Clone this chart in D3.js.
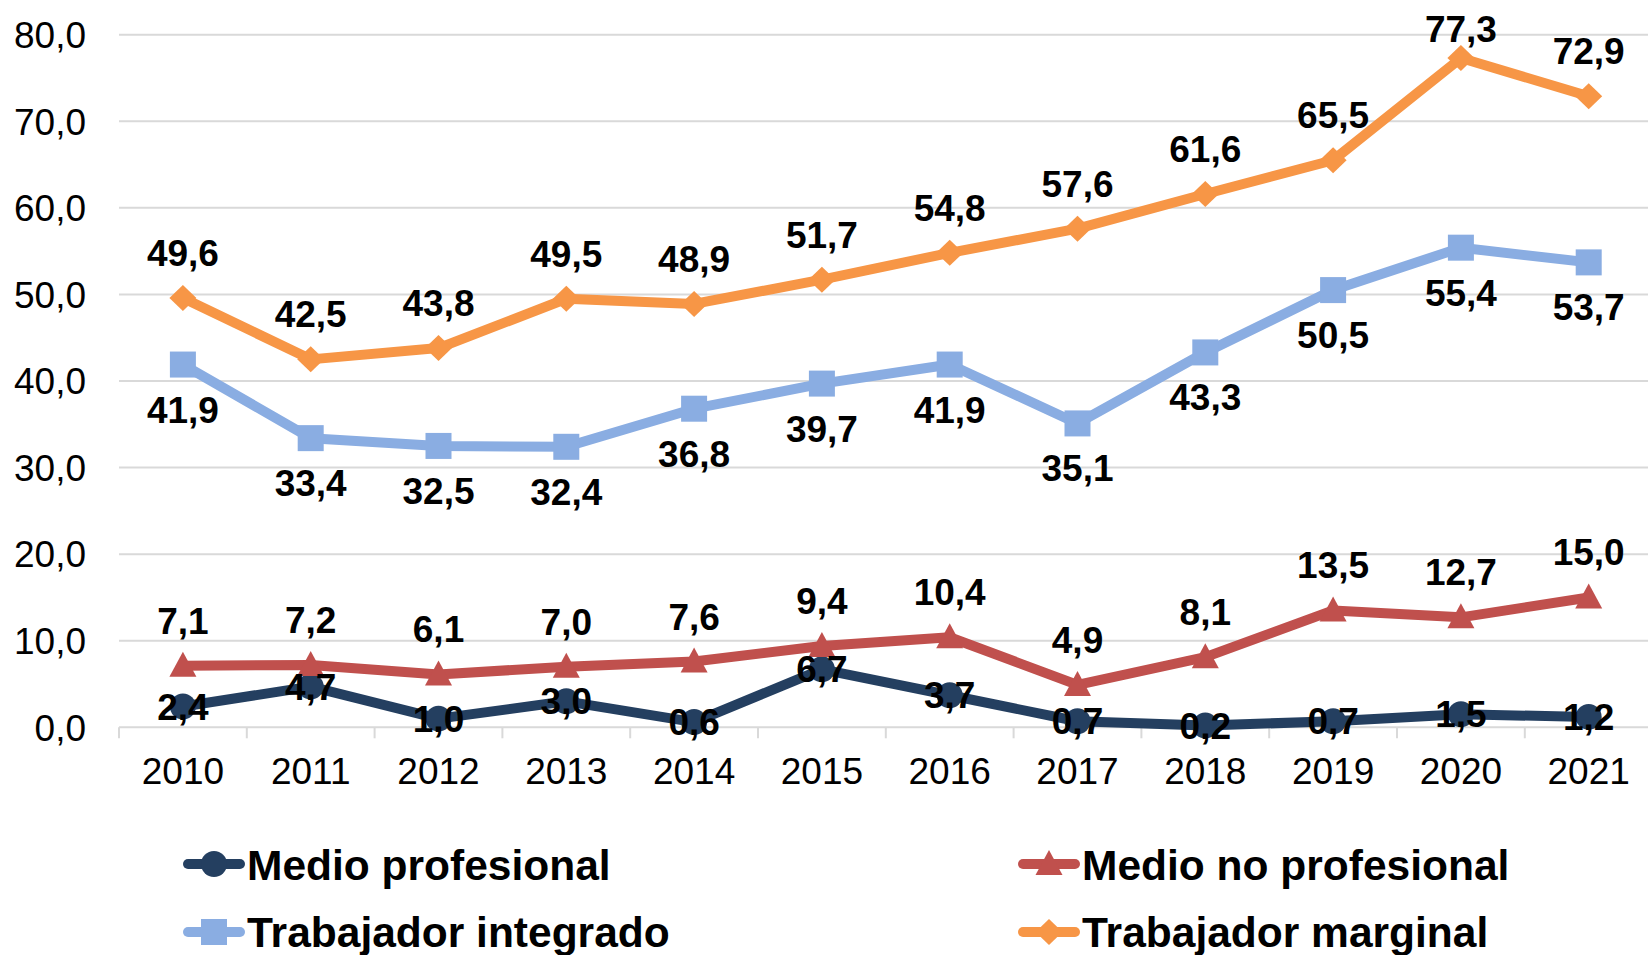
<!DOCTYPE html>
<html><head><meta charset="utf-8">
<script src="https://cdn.jsdelivr.net/npm/d3@7"></script>
<style>body{margin:0;background:#fff}svg{display:block}</style>
</head><body>
<svg id="c" width="1648" height="955"></svg>
<script>
const years = ["2010","2011","2012","2013","2014","2015","2016","2017","2018","2019","2020","2021"];
const medioProfesional = [2.4,4.7,1.0,3.0,0.6,6.7,3.7,0.7,0.2,0.7,1.5,1.2];
const medioNoProfesional = [7.1,7.2,6.1,7.0,7.6,9.4,10.4,4.9,8.1,13.5,12.7,15.0];
const trabajadorIntegrado = [41.9,33.4,32.5,32.4,36.8,39.7,41.9,35.1,43.3,50.5,55.4,53.7];
const trabajadorMarginal = [49.6,42.5,43.8,49.5,48.9,51.7,54.8,57.6,61.6,65.5,77.3,72.9];
const yTicks = [0,10,20,30,40,50,60,70,80];

const series = [
  {name:"Medio profesional", values:medioProfesional, color:"#243F60", marker:"circle", label:"center"},
  {name:"Medio no profesional", values:medioNoProfesional, color:"#C0504D", marker:"triangle", label:"above"},
  {name:"Trabajador integrado", values:trabajadorIntegrado, color:"#8AADE2", marker:"square", label:"below"},
  {name:"Trabajador marginal", values:trabajadorMarginal, color:"#F79646", marker:"diamond", label:"above"}
];

const svg = d3.select("#c");
const font = "'Liberation Sans', Arial, sans-serif";
const x = d3.scaleBand().domain(years).range([119, 1652.6]);
const y = d3.scaleLinear().domain([0,80]).range([727.3, 34.7]);
const fmt = v => d3.format(".1f")(v).replace(".", ",");

// gridlines
svg.append("g").selectAll("line").data(yTicks).join("line")
  .attr("x1",119).attr("x2",1652).attr("y1",d=>y(d)).attr("y2",d=>y(d))
  .attr("stroke","#d9d9d9").attr("stroke-width",2);

// x ticks at band boundaries
const bounds = years.map(d=>x(d)).concat([x.range()[1]]);
svg.append("g").selectAll("line").data(bounds).join("line")
  .attr("x1",d=>d).attr("x2",d=>d).attr("y1",y(0)).attr("y2",y(0)+11)
  .attr("stroke","#d9d9d9").attr("stroke-width",2);

// y labels
svg.append("g").selectAll("text").data(yTicks).join("text")
  .attr("x",86).attr("y",d=>y(d)).attr("dy","0.36em")
  .attr("text-anchor","end").attr("font-family",font).attr("font-size",37)
  .attr("fill","#000").text(d=>fmt(d));

// x labels
svg.append("g").selectAll("text").data(years).join("text")
  .attr("x",d=>x(d)+x.bandwidth()/2).attr("y",784)
  .attr("text-anchor","middle").attr("font-family",font).attr("font-size",37)
  .attr("fill","#000").text(d=>d);

const cx = i => x(years[i]) + x.bandwidth()/2;

function drawMarker(g, type, px, py, color, s) {
  s = s || 1;
  if (type==="circle") g.append("circle").attr("cx",px).attr("cy",py).attr("r",13*s).attr("fill",color);
  else if (type==="square") g.append("rect").attr("x",px-13*s).attr("y",py-13*s).attr("width",26*s).attr("height",26*s).attr("fill",color);
  else if (type==="triangle") g.append("path").attr("d",`M${px},${py-14*s}L${px+13.5*s},${py+11*s}L${px-13.5*s},${py+11*s}Z`).attr("fill",color);
  else if (type==="diamond") g.append("path").attr("d",`M${px},${py-13*s}L${px+13.5*s},${py}L${px},${py+13*s}L${px-13.5*s},${py}Z`).attr("fill",color);
}

const line = d3.line().x((d,i)=>cx(i)).y(d=>y(d));
series.forEach(s => {
  const g = svg.append("g");
  g.append("path").datum(s.values).attr("d",line).attr("fill","none")
    .attr("stroke",s.color).attr("stroke-width",10).attr("stroke-linejoin","round");
  s.values.forEach((v,i)=>drawMarker(g, s.marker, cx(i), y(v), s.color));
});

// data labels
series.forEach(s => {
  svg.append("g").selectAll("text").data(s.values).join("text")
    .attr("x",(d,i)=>cx(i))
    .attr("y",d => s.label==="above" ? Math.max(y(d)-32, 42) : s.label==="below" ? y(d)+58 : y(d)+13)
    .attr("text-anchor","middle").attr("font-family",font).attr("font-size",37)
    .attr("font-weight","bold").attr("fill","#000").text(d=>fmt(d));
});

// legend
const legendPos = [
  {lx:183, tx:247, by:880, cy:864},
  {lx:1018, tx:1082, by:880, cy:864},
  {lx:183, tx:247, by:947, cy:932},
  {lx:1018, tx:1082, by:947, cy:932}
];
series.forEach((s,i) => {
  const p = legendPos[i];
  const g = svg.append("g");
  g.append("line").attr("x1",p.lx+5).attr("x2",p.lx+57).attr("y1",p.cy).attr("y2",p.cy)
    .attr("stroke",s.color).attr("stroke-width",10).attr("stroke-linecap","round");
  drawMarker(g, s.marker, p.lx+31, p.cy, s.color);
  g.append("text").attr("x",p.tx).attr("y",p.by).attr("font-family",font)
    .attr("font-size",42.5).attr("font-weight","bold").attr("fill","#000").text(s.name);
});
</script>
</body></html>
